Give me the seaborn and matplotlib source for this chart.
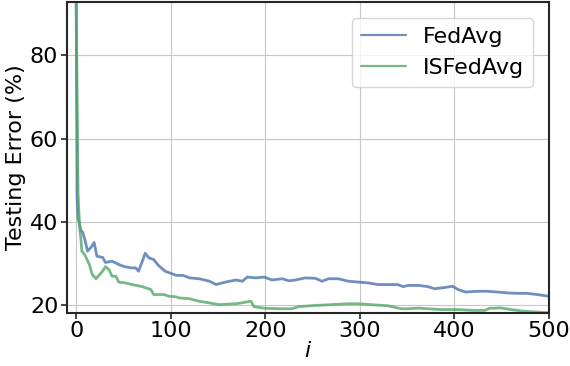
import numpy as np
import pandas as pd
import matplotlib
matplotlib.use("Agg")
import matplotlib.pyplot as plt
import seaborn as sns

# values
fedavg_x = [0, 1, 2, 5, 7, 10, 12, 16, 19, 22, 28, 31, 38, 45, 51, 58, 63, 66, 70, 73,
            77, 82, 87, 94, 99, 106, 113, 120, 130, 141, 148, 158, 169, 176, 181, 190,
            199, 207, 218, 225, 232, 242, 253, 260, 267, 277, 288, 298, 309, 319, 330,
            340, 346, 351, 362, 372, 379, 390, 398, 404, 412, 425, 435, 446, 456, 467,
            477, 488, 500]
fedavg_err = [95, 46, 41, 38, 37.5, 35.1, 33, 34, 35.1, 31.8, 31.5, 30.3, 30.6, 29.8,
              29.3, 29, 29, 28.2, 30.6, 32.5, 31.4, 31, 29.6, 28.2, 27.8, 27.2, 27.2,
              26.6, 26.4, 25.8, 25, 25.6, 26.1, 25.8, 26.8, 26.6, 26.8, 26.1, 26.4, 25.9,
              26.1, 26.6, 26.5, 25.8, 26.4, 26.4, 25.8, 25.6, 25.4, 25, 25, 25, 24.5,
              24.8, 24.8, 24.5, 24, 24.3, 24.6, 23.8, 23.2, 23.4, 23.4, 23.2, 23, 22.9,
              22.9, 22.6, 22.2]

isfedavg_x = [0, 1, 2, 3, 4, 5, 6, 9, 14, 17, 21, 24, 28, 31, 35, 38, 42, 45, 52, 59, 70,
              79, 82, 93, 98, 105, 109, 120, 130, 141, 151, 169, 185, 188, 200, 218, 228,
              235, 253, 270, 288, 298, 312, 330, 344, 351, 362, 372, 386, 404, 421, 432,
              437, 449, 460, 474, 488, 500]
isfedavg_err = [96, 70, 47, 42, 38, 36, 33, 32.2, 29.8, 27.4, 26.4, 27.2, 28.2, 29.3, 28.5,
                27, 27, 25.6, 25.4, 25, 24.5, 23.8, 22.6, 22.6, 22.2, 22.1, 21.8, 21.6,
                21.0, 20.6, 20.2, 20.4, 21.0, 19.7, 19.3, 19.2, 19.2, 19.7, 20.0, 20.2,
                20.4, 20.4, 20.2, 19.9, 19.2, 19.2, 19.35, 19.2, 19.0, 19.0, 18.8, 18.8,
                19.3, 19.4, 19.0, 18.6, 18.4, 18.25]

df = pd.concat([
    pd.DataFrame({"i": fedavg_x, "err": fedavg_err, "method": "FedAvg"}),
    pd.DataFrame({"i": isfedavg_x, "err": isfedavg_err, "method": "ISFedAvg"}),
])

sns.set_style("whitegrid", {"axes.edgecolor": "0.15", "xtick.bottom": True,
                            "ytick.left": True, "grid.color": "0.78",
                            "text.color": "black", "axes.labelcolor": "black",
                            "xtick.color": "black", "ytick.color": "black"})
plt.rcParams["font.size"] = 16
plt.rcParams["axes.labelsize"] = 16
plt.rcParams["xtick.labelsize"] = 16
plt.rcParams["ytick.labelsize"] = 16
plt.rcParams["legend.fontsize"] = 16

fig, ax = plt.subplots(figsize=(5.7, 3.66), dpi=100)
palette = sns.color_palette("deep")
sns.lineplot(data=df, x="i", y="err", hue="method", palette=[palette[0], palette[2]],
             linewidth=2, alpha=0.8, ax=ax)

ax.set_xlim(-10, 500)
ax.set_ylim(18.2, 92.7)
ax.set_xticks([0, 100, 200, 300, 400, 500])
ax.set_yticks([20, 40, 60, 80])
ax.set_xlabel("$i$", labelpad=0)
ax.set_ylabel("Testing Error (%)", labelpad=3)
for s in ax.spines.values():
    s.set_linewidth(1.5)
ax.tick_params(length=4, width=1.2, color="0.15", pad=2)
leg = ax.legend(loc="upper right", frameon=True, handlelength=2.0,
                borderaxespad=0.7)
for line in leg.get_lines():
    line.set_linewidth(1.6)

fig.subplots_adjust(left=0.117, right=0.963, top=0.994, bottom=0.145)
plt.savefig("out.png")
